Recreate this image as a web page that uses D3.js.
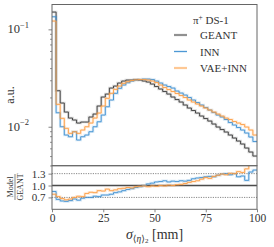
<!DOCTYPE html>
<html>
<head>
<meta charset="utf-8">
<script src="https://cdn.jsdelivr.net/npm/d3@7"></script>
<style>
  body { margin: 0; background: #fff; }
</style>
</head>
<body>
<div id="chart"></div>
<script>
// bin edges: 50 bins of 2 mm between 0 and 100
var binEdges = d3.range(0, 101, 2);

// normalised histograms (a.u.)
var geant = [0.1505, 0.02343, 0.01751, 0.01415, 0.01228, 0.01172, 0.01091, 0.01117, 0.01117, 0.01258,
             0.01350, 0.01632, 0.02018, 0.02166, 0.02496, 0.02617, 0.02810, 0.02945, 0.03016, 0.03016,
             0.03051, 0.03016, 0.02945, 0.02876, 0.02744, 0.02587, 0.02439, 0.02299, 0.02166, 0.02018,
             0.01902, 0.01793, 0.01671, 0.01556, 0.01467, 0.01382, 0.01288, 0.01214, 0.01144, 0.01066,
             0.009929, 0.009361, 0.008823, 0.008219, 0.007656, 0.007131, 0.006643, 0.006043, 0.005497, 0.005002];
var inn = [0.1347, 0.01392, 0.01000, 0.008219, 0.007894, 0.008886, 0.007302, 0.007894, 0.008219, 0.008886,
           0.01000, 0.01125, 0.01318, 0.01604, 0.01880, 0.02203, 0.02479, 0.02680, 0.02829, 0.02945,
           0.03016, 0.03051, 0.03087, 0.03087, 0.03051, 0.02945, 0.02810, 0.02680, 0.02587, 0.02496,
           0.02326, 0.02218, 0.02115, 0.01995, 0.01880, 0.01772, 0.01671, 0.01575, 0.01484, 0.01399,
           0.01318, 0.01258, 0.01186, 0.01104, 0.01041, 0.009813, 0.009250, 0.008617, 0.007839, 0.007047];
var vaeInn = [0.1217, 0.01698, 0.01220, 0.009629, 0.008553, 0.008886, 0.008553, 0.009250, 0.01000, 0.01091,
              0.01228, 0.01382, 0.01632, 0.01957, 0.02203, 0.02421, 0.02617, 0.02790, 0.02897, 0.02981,
              0.03030, 0.03051, 0.03051, 0.03016, 0.02945, 0.02843, 0.02680, 0.02526, 0.02409, 0.02299,
              0.02193, 0.02091, 0.01995, 0.01880, 0.01793, 0.01710, 0.01632, 0.01556, 0.01484, 0.01415,
              0.01350, 0.01288, 0.01228, 0.01186, 0.01131, 0.01091, 0.01053, 0.009929, 0.009250, 0.008219];

// ratio panel (Model / GEANT) as drawn
var ratioInn = [0.85, 0.65, 0.61, 0.60, 0.62, 0.66, 0.63, 0.68, 0.70, 0.70,
                0.73, 0.72, 0.76, 0.76, 0.78, 0.82, 0.84, 0.87, 0.90, 0.92,
                0.95, 0.97, 1.00, 1.04, 1.06, 1.09, 1.10, 1.12, 1.09, 1.11,
                1.10, 1.12, 1.11, 1.13, 1.17, 1.19, 1.20, 1.22, 1.23, 1.22,
                1.26, 1.29, 1.30, 1.27, 1.30, 1.22, 1.24, 1.13, 1.34, 1.39];
var ratioVae = [0.78, 0.72, 0.67, 0.64, 0.66, 0.70, 0.73, 0.72, 0.80, 0.83,
                0.82, 0.87, 0.86, 0.91, 0.87, 0.89, 0.92, 0.93, 0.95, 0.94,
                0.97, 0.98, 0.99, 0.97, 0.99, 0.98, 1.00, 0.99, 1.01, 1.00,
                1.02, 1.03, 1.05, 1.08, 1.10, 1.12, 1.16, 1.20, 1.18, 1.23,
                1.26, 1.29, 1.27, 1.31, 1.30, 1.35, 1.33, 1.42, 1.55, 1.55];

var seriesNames = ["GEANT", "INN", "VAE+INN"];
var seriesColors = ["#3a3a3a", "#3d8fd1", "#fd9d42"];
var xTicks = [0, 25, 50, 75, 100];
var ratioTicks = [0.7, 1.0, 1.3];

var serif = "'Liberation Serif', 'DejaVu Serif', serif";
var width = 274, height = 247;
var pLeft = 52, pRight = 257, pTop = 4.5, pMid = 165.7, pBottom = 209.3;

var svg = d3.select("#chart").append("svg")
    .attr("width", width).attr("height", height)
    .style("font-family", serif);

var x = d3.scaleLinear().domain([0, 100]).range([pLeft, pRight]);
var y = d3.scaleLog().domain([0.00398, 0.18]).range([pMid, pTop]);
var yr = d3.scaleLinear().domain([0.4, 1.5]).range([pBottom, pMid]);

var defs = svg.append("defs");
defs.append("clipPath").attr("id", "clipMain")
    .append("rect").attr("x", pLeft).attr("y", pTop).attr("width", pRight - pLeft).attr("height", pMid - pTop);
defs.append("clipPath").attr("id", "clipRatio")
    .append("rect").attr("x", pLeft).attr("y", pMid).attr("width", pRight - pLeft).attr("height", pBottom - pMid);

// step line through the bins
function stepPoints(vals){
  var pts = vals.map((v, i) => [binEdges[i], v]);
  pts.push([100, vals[vals.length - 1]]);
  return pts;
}

function drawStep(g, vals, yScale, color){
  var line = d3.line()
      .x(d => x(d[0]))
      .y(d => yScale(d[1]))
      .curve(d3.curveStepAfter);
  g.append("path").attr("d", line(stepPoints(vals)))
    .attr("fill", "none").attr("stroke", color).attr("stroke-opacity", 0.2).attr("stroke-width", 2.6);
  g.append("path").attr("d", line(stepPoints(vals)))
    .attr("fill", "none").attr("stroke", color).attr("stroke-width", 0.9);
}

// main panel
var gMain = svg.append("g").attr("clip-path", "url(#clipMain)");
var hists = [geant, inn, vaeInn];
hists.forEach((h, i) => drawStep(gMain, h, y, seriesColors[i]));

// ratio panel
var gRatio = svg.append("g").attr("clip-path", "url(#clipRatio)");
[1.3, 0.7].forEach(v => {
  gRatio.append("line")
    .attr("x1", pLeft).attr("x2", pRight).attr("y1", yr(v)).attr("y2", yr(v))
    .attr("stroke", "#555").attr("stroke-width", 0.7).attr("stroke-dasharray", "1.2,1.2");
});
gRatio.append("line")
  .attr("x1", pLeft).attr("x2", pRight).attr("y1", yr(1)).attr("y2", yr(1))
  .attr("stroke", "#999").attr("stroke-opacity", 0.45).attr("stroke-width", 3.2);
gRatio.append("line")
  .attr("x1", pLeft).attr("x2", pRight).attr("y1", yr(1)).attr("y2", yr(1))
  .attr("stroke", seriesColors[0]).attr("stroke-width", 0.9);
drawStep(gRatio, ratioInn, yr, seriesColors[1]);
drawStep(gRatio, ratioVae, yr, seriesColors[2]);

// frames
svg.append("rect").attr("x", pLeft).attr("y", pTop).attr("width", pRight - pLeft).attr("height", pMid - pTop)
  .attr("fill", "none").attr("stroke", "#666").attr("stroke-width", 1);
svg.append("rect").attr("x", pLeft).attr("y", pMid).attr("width", pRight - pLeft).attr("height", pBottom - pMid)
  .attr("fill", "none").attr("stroke", "#666").attr("stroke-width", 1);

// log y axis ticks
var minorTicks = [];
[0.001, 0.01, 0.1].forEach(d => d3.range(2, 10).forEach(k => {
  var v = d * k;
  if (v >= y.domain()[0] && v <= y.domain()[1]) minorTicks.push(v);
}));
svg.append("g").attr("transform", "translate(" + pLeft + ",0)")
  .call(d3.axisLeft(y).tickValues(minorTicks).tickSize(2).tickFormat(""))
  .call(g => g.select(".domain").remove())
  .call(g => g.selectAll("line").attr("stroke", "#666").attr("stroke-width", 0.7));
svg.append("g").attr("transform", "translate(" + pLeft + ",0)")
  .call(d3.axisLeft(y).tickValues([0.01, 0.1]).tickSize(3.5).tickFormat(""))
  .call(g => g.select(".domain").remove())
  .call(g => g.selectAll("line").attr("stroke", "#666").attr("stroke-width", 0.8));
[0.1, 0.01].forEach(v => {
  var t = svg.append("text").attr("x", 29).attr("y", y(v) + 4).attr("text-anchor", "end")
    .attr("font-size", "12.5px").attr("fill", "#333").text("10");
  t.append("tspan").attr("dy", -5.5).attr("font-size", "8.5px").text("\u2212" + Math.round(-Math.log10(v)));
});

// ratio y axis
svg.append("g").attr("transform", "translate(" + pLeft + ",0)")
  .call(d3.axisLeft(yr).tickValues(ratioTicks).tickSize(3.5).tickFormat(d3.format(".1f")).tickPadding(3))
  .call(g => g.select(".domain").remove())
  .call(g => g.selectAll("line").attr("stroke", "#666").attr("stroke-width", 0.8))
  .call(g => g.selectAll("text").attr("font-size", "11px").attr("font-family", serif).attr("fill", "#333"));

// x axis
svg.append("g").attr("transform", "translate(0," + pBottom + ")")
  .call(d3.axisBottom(x).tickValues(xTicks).tickSize(3).tickPadding(2))
  .call(g => g.select(".domain").remove())
  .call(g => g.selectAll("line").attr("stroke", "#666").attr("stroke-width", 0.8))
  .call(g => g.selectAll("text").attr("font-size", "11.5px").attr("font-family", serif).attr("fill", "#333"));

// axis labels
svg.append("text").attr("transform", "translate(14,95) rotate(-90)")
  .attr("text-anchor", "middle").attr("font-size", "12px").attr("fill", "#333").text("a.u.");

var frac = svg.append("g").attr("transform", "translate(15,187) rotate(-90)");
frac.append("text").attr("x", 0).attr("y", -2).attr("text-anchor", "middle").attr("font-size", "8px").attr("fill", "#333").text("Model");
frac.append("line").attr("x1", -13).attr("x2", 13).attr("y1", 0).attr("y2", 0)
  .attr("stroke", "#333").attr("stroke-width", 0.6);
frac.append("text").attr("x", 0).attr("y", 7.5).attr("text-anchor", "middle").attr("font-size", "8px").attr("fill", "#333").text("GEANT");

var xl = svg.append("text").attr("x", (pLeft + pRight) / 2).attr("y", 239).attr("text-anchor", "middle")
  .attr("font-size", "14px").attr("fill", "#333");
xl.append("tspan").attr("font-style", "italic").text("\u03c3");
xl.append("tspan").attr("font-size", "9.5px").attr("dy", 2.5).text("\u27e8");
xl.append("tspan").attr("font-size", "9.5px").attr("font-style", "italic").text("\u03b7");
xl.append("tspan").attr("font-size", "9.5px").text("\u27e9");
xl.append("tspan").attr("font-size", "7px").attr("dy", 1.5).text("2");
xl.append("tspan").attr("dy", -4).text(" [mm]");

// legend
var legend = svg.append("g");
var lt = legend.append("text").attr("x", 193).attr("y", 24).attr("font-size", "11px").attr("fill", "#333").text("\u03c0");
lt.append("tspan").attr("dy", -4).attr("font-size", "7.5px").text("+");
lt.append("tspan").attr("dy", 4).text(" DS-1");
var legendY = [35, 51.5, 68];
seriesNames.forEach((name, i) => {
  legend.append("line").attr("x1", 174).attr("x2", 187).attr("y1", legendY[i]).attr("y2", legendY[i])
    .attr("stroke", seriesColors[i]).attr("stroke-opacity", 0.2).attr("stroke-width", 2.6);
  legend.append("line").attr("x1", 174).attr("x2", 187).attr("y1", legendY[i]).attr("y2", legendY[i])
    .attr("stroke", seriesColors[i]).attr("stroke-width", 0.9);
  legend.append("text").attr("x", 200).attr("y", legendY[i] + 4).attr("font-size", "11px").attr("fill", "#333").text(name);
});
</script>
</body>
</html>
